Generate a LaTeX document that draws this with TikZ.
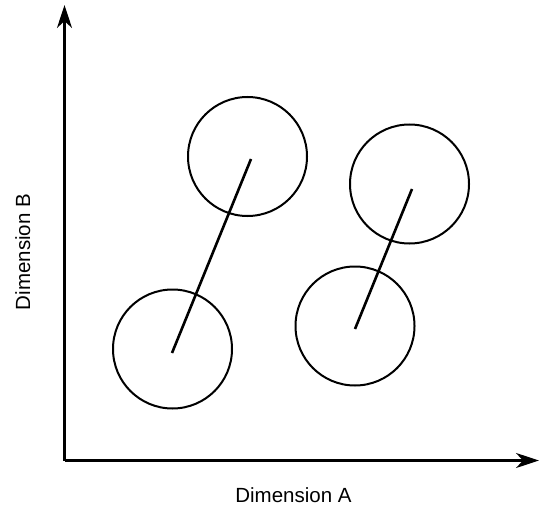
\documentclass[tikz,border=0pt]{standalone}
\usepackage{fontspec}
\setmainfont{Liberation Sans}
\usetikzlibrary{arrows.meta}
\begin{document}
\begin{tikzpicture}[x=1pt,y=-1pt,
  axis/.style={line width=2.6pt,-{Stealth[length=23pt,width=15pt,inset=7pt]}},
  blob/.style={circle,draw,line width=2pt,minimum size=119pt,inner sep=0pt},
  link/.style={line width=2.6pt},
  lab/.style={font=\fontsize{20.5}{24}\selectfont,inner sep=0pt}]
\useasboundingbox (0,0) rectangle (540,508);
\coordinate (o) at (64.5,460.5);
\coordinate (ytip) at (64.5,5);
\coordinate (xtip) at (539,460.5);
\draw[axis] (o) -- (ytip);
\draw[axis] (o) -- (xtip);
\node[blob] (c1) at (247.5,156.5) {};
\node[blob] (c2) at (172.5,349) {};
\node[blob] (c3) at (409.5,184) {};
\node[blob] (c4) at (355,326) {};
\coordinate (l1a) at (172,353);
\coordinate (l1b) at (251,159);
\coordinate (l2a) at (355,329);
\coordinate (l2b) at (412,189);
\draw[link] (l1a) -- (l1b);
\draw[link] (l2a) -- (l2b);
\node[lab,anchor=base] (la) at (293.5,502) {Dimension A};
\node[lab,anchor=base,rotate=90] (lb) at (30,252) {Dimension B};
\end{tikzpicture}
\end{document}
